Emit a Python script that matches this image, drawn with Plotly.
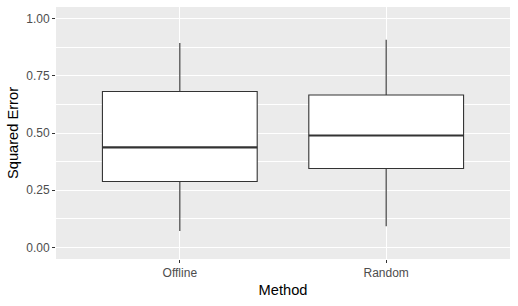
import plotly.graph_objects as go

methods = ["Offline", "Random"]
q1 = [0.288, 0.345]
median = [0.437, 0.489]
q3 = [0.681, 0.666]
lower = [0.072, 0.093]
upper = [0.893, 0.907]

y_ticks = [0.0, 0.25, 0.5, 0.75, 1.0]
y_ticklabels = ["0.00", "0.25", "0.50", "0.75", "1.00"]

BOX_W = 0.75
LINE = "#333333"
FONT = "Liberation Sans, Arial, sans-serif"

fig = go.Figure()
positions = list(range(1, len(methods) + 1))
for i, m in enumerate(methods):
    fig.add_trace(go.Box(
        x=[positions[i]], q1=[q1[i]], median=[median[i]], q3=[q3[i]],
        lowerfence=[lower[i]], upperfence=[upper[i]],
        width=BOX_W, whiskerwidth=0, fillcolor="white",
        line=dict(color=LINE, width=1.1), name=m, showlegend=False,
        hoverinfo="skip",
    ))
    # thicker median line as in ggplot2
    fig.add_trace(go.Scatter(
        x=[positions[i] - BOX_W / 2, positions[i] + BOX_W / 2],
        y=[median[i], median[i]], mode="lines",
        line=dict(color=LINE, width=2.2), showlegend=False, hoverinfo="skip",
    ))

fig.update_layout(
    width=518, height=306,
    margin=dict(l=56, r=8, t=7, b=47),
    paper_bgcolor="white", plot_bgcolor="#EBEBEB",
    font=dict(family=FONT, size=11.7, color="#4D4D4D"),
    showlegend=False,
)
fig.update_xaxes(
    range=[0.4, 2.6], tickvals=positions, ticktext=methods,
    showgrid=True, gridcolor="white", gridwidth=1.07, zeroline=False,
    ticks="outside", ticklen=3, tickcolor="#333333", tickwidth=1.07,
    tickfont=dict(size=12, color="#4D4D4D"), automargin=False,
    title=dict(text="Method", font=dict(size=14.67, color="black"), standoff=5),
    showline=False,
)
fig.update_yaxes(
    range=[-0.05, 1.05], tickvals=y_ticks, ticktext=y_ticklabels,
    showgrid=True, gridcolor="white", gridwidth=1.07, zeroline=False,
    ticks="outside", ticklen=3, tickcolor="#333333", tickwidth=1.07,
    tickfont=dict(size=12, color="#4D4D4D"), automargin=False,
    minor=dict(showgrid=True, gridcolor="white", gridwidth=0.53, tick0=0.125, dtick=0.25),
    title=dict(text="Squared Error", font=dict(size=14.67, color="black"), standoff=4),
    showline=False,
)

fig.write_html("out.html", config={"displayModeBar": False},
               post_script="document.body.style.margin='0';")
